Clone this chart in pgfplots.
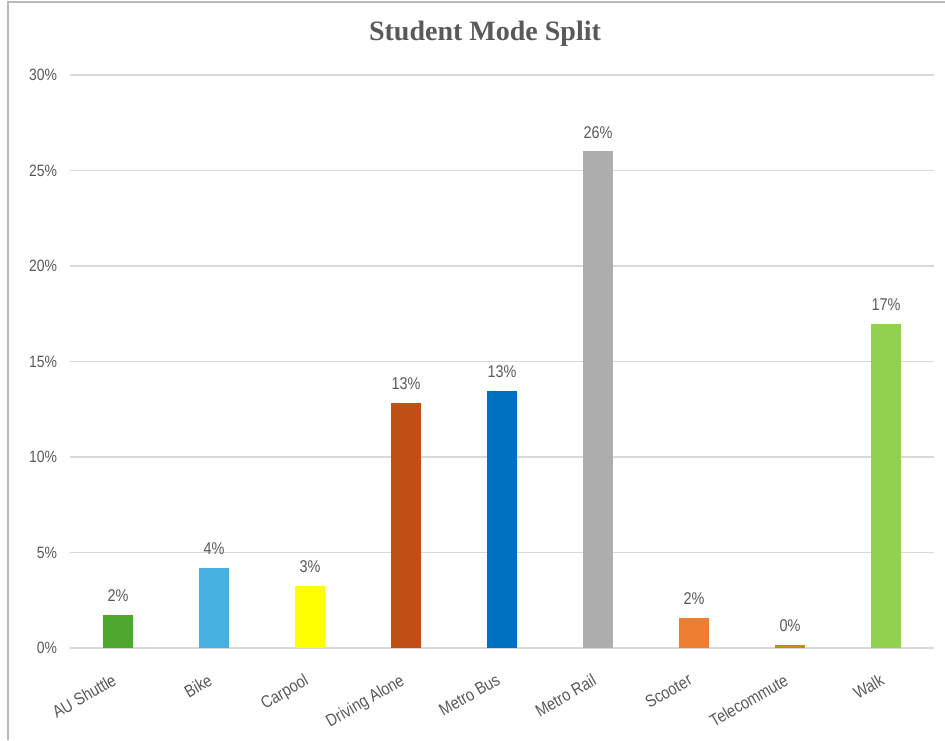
\documentclass[border=0pt]{standalone}
\usepackage{pgfplots}
\pgfplotsset{compat=1.18}
\usepackage{fontspec}
\setmainfont[FakeStretch=0.85]{Liberation Sans}
\newfontfamily\titlefont{Liberation Serif}
\definecolor{lab}{HTML}{595959}
\definecolor{gridc}{HTML}{D9D9D9}
\definecolor{cShuttle}{HTML}{4EA72E}
\definecolor{cBike}{HTML}{46B1E1}
\definecolor{cCarpool}{HTML}{FFFF00}
\definecolor{cDrive}{HTML}{C04F15}
\definecolor{cBus}{HTML}{0070C0}
\definecolor{cRail}{HTML}{ADADAD}
\definecolor{cScooter}{HTML}{ED7D31}
\definecolor{cTele}{HTML}{BF9000}
\definecolor{cWalk}{HTML}{92D050}
\begin{document}
\begin{tikzpicture}
\useasboundingbox (0,0) rectangle (472.5pt,370pt);
\draw[gray!55,line width=0.6pt] (4pt,0) -- (4pt,369pt) -- (472.5pt,369pt);
\node[font=\titlefont\bfseries\fontsize{14}{16}\selectfont, text=lab] at (242.5pt,353pt) {Student Mode Split};
\begin{axis}[
  at={(35pt,46pt)}, anchor=south west,
  scale only axis, width=432pt, height=286.5pt,
  xmin=-0.5, xmax=8.5, ymin=0, ymax=30,
  ytick={0,5,10,15,20,25,30},
  yticklabel={\pgfmathprintnumber{\tick}\%},
  /pgf/number format/assume math mode=true,
  xtick={0,1,2,3,4,5,6,7,8},
  xticklabels={AU Shuttle,Bike,Carpool,Driving Alone,Metro Bus,Metro Rail,Scooter,Telecommute,Walk},
  xticklabel style={rotate=30, anchor=north east, font=\fontsize{8.6}{10}\selectfont, text=lab, inner sep=1pt, yshift=-8pt, xshift=-8pt},
  yticklabel style={font=\fontsize{8.2}{10}\selectfont, text=lab, xshift=-3pt},
  axis line style={draw=none},
  major tick length=0pt,
  ymajorgrids, grid style={gridc, line width=0.6pt},
  ybar, bar width=15pt, bar shift=0pt,
  nodes near coords={\pgfmathprintnumber[fixed,precision=0]{\pgfplotspointmeta}\%},
  nodes near coords style={font=\fontsize{8.5}{10}\selectfont, text=lab, yshift=3pt},
  clip=false,
]
\addplot[fill=cShuttle, draw=none] coordinates {(0,1.73)};
\addplot[fill=cBike, draw=none] coordinates {(1,4.19)};
\addplot[fill=cCarpool, draw=none] coordinates {(2,3.25)};
\addplot[fill=cDrive, draw=none] coordinates {(3,12.83)};
\addplot[fill=cBus, draw=none] coordinates {(4,13.46)};
\addplot[fill=cRail, draw=none] coordinates {(5,26.0)};
\addplot[fill=cScooter, draw=none] coordinates {(6,1.57)};
\addplot[fill=cTele, draw=none] coordinates {(7,0.16)};
\addplot[fill=cWalk, draw=none] coordinates {(8,16.96)};
\end{axis}
\end{tikzpicture}
\end{document}
